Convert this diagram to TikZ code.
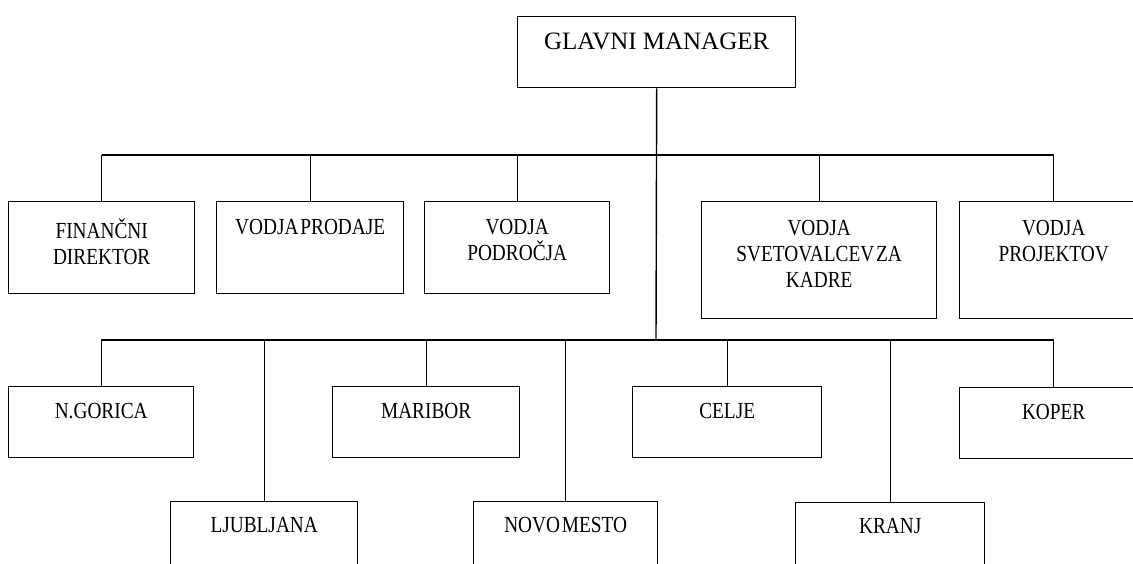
\documentclass[tikz,border=0pt]{standalone}
\usepackage{fontspec}
\setmainfont{Liberation Serif}
\newfontfamily\narrowfont[FakeStretch=0.84,WordSpace=0.4]{Liberation Serif}
\begin{document}
\begin{tikzpicture}[x=1pt,y=-1pt,
  orgbox/.style={draw, line width=1.4pt, inner sep=0pt, anchor=north west, minimum width=186pt},
  smallbox/.style={orgbox, minimum height=92pt},
  tallbox/.style={orgbox, minimum height=117pt},
  lowbox/.style={orgbox, minimum height=71pt},
  deepbox/.style={orgbox, minimum height=90pt},
  lbl/.style={font=\narrowfont\fontsize{23}{26}\selectfont, align=center, anchor=north, inner sep=0pt},
  conn/.style={line width=1.4pt}]
\useasboundingbox (0,0) rectangle (1133,564);
\clip (0,0) rectangle (1133,564);
% top
\node[orgbox, minimum width=278pt, minimum height=71pt] (gm) at (517,16) {};
\node[lbl, font=\fontsize{25}{30}\selectfont] (gmT) at ([yshift=-17pt]gm.north) {GLAVNI MANAGER};
% upper row
\node[smallbox] (fin) at (8,201) {};
\node[smallbox, minimum width=187pt] (pro) at (216,201) {};
\node[smallbox, minimum width=185pt] (pod) at (424,201) {};
\node[tallbox, minimum width=235pt] (svt) at (701,201) {};
\node[tallbox, minimum width=188pt] (prj) at (959,201) {};
\node[lbl] (finT) at ([yshift=-18pt]fin.north) {FINANČNI\\DIREKTOR};
\node[lbl] (proT) at ([yshift=-18pt]pro.north) {VODJA PRODAJE};
\node[lbl] (podT) at ([yshift=-18pt]pod.north) {VODJA\\PODROČJA};
\node[lbl] (svtT) at ([yshift=-19pt]svt.north) {VODJA\\SVETOVALCEV ZA\\KADRE};
\node[lbl] (prjT) at ([yshift=-19pt]prj.north) {VODJA\\PROJEKTOV};
% lower row
\node[lowbox, minimum width=185pt] (ng) at (8,386) {};
\node[lowbox, minimum width=187pt] (mb) at (332,386) {};
\node[lowbox, minimum width=189pt] (ce) at (632,386) {};
\node[lowbox, minimum width=188pt] (kp) at (959,387) {};
\node[lbl] (ngT) at ([yshift=-17pt]ng.north) {N.GORICA};
\node[lbl] (mbT) at ([yshift=-17pt]mb.north) {MARIBOR};
\node[lbl] (ceT) at ([yshift=-17pt]ce.north) {CELJE};
\node[lbl] (kpT) at ([yshift=-17pt]kp.north) {KOPER};
% bottom row
\node[deepbox, minimum width=187pt] (lj) at (170,501) {};
\node[deepbox, minimum width=184pt] (nm) at (473,501) {};
\node[deepbox, minimum width=189pt] (kr) at (795,502) {};
\node[lbl] (ljT) at ([yshift=-16pt]lj.north) {LJUBLJANA};
\node[lbl] (nmT) at ([yshift=-16pt]nm.north) {NOVO MESTO};
\node[lbl] (krT) at ([yshift=-16pt]kr.north) {KRANJ};
% buses
\coordinate (bus1) at (656,155);
\coordinate (bus2) at (656,340);
\draw[conn] (gm.south) -- (bus2);
\draw[conn] (fin.north |- bus1) -- (prj.north |- bus1);
\foreach \n in {fin,pro,pod,svt,prj} \draw[conn] (\n.north) -- (\n.north |- bus1);
\draw[conn] (ng.north |- bus2) -- (kp.north |- bus2);
\foreach \n in {ng,mb,ce,kp,lj,nm,kr} \draw[conn] (\n.north) -- (\n.north |- bus2);
\end{tikzpicture}
\end{document}
